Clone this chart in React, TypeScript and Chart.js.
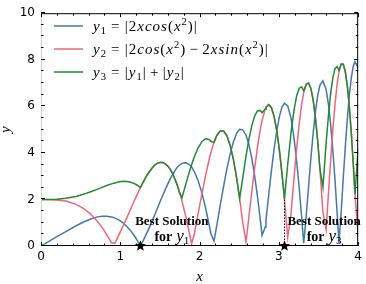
import React, { useEffect, useRef } from "react";
import { Chart, registerables } from "chart.js";

Chart.register(...registerables);

// sample positions (x) and the three curves
const xs = [
  0, 0.2, 0.3133, 0.4431, 0.5427, 0.6267, 0.7006, 0.7675, 0.829, 0.8889, 0.9293, 0.94, 0.9908, 1.0392, 1.0854, 1.1297, 1.1724, 1.2135, 1.2533,
  1.2919, 1.3293, 1.3658, 1.4013, 1.4359, 1.4697, 1.5027, 1.535, 1.5666, 1.5977, 1.6281, 1.658, 1.6873, 1.7162, 1.7445, 1.7778,
  1.827, 1.88, 1.899, 1.9315, 1.9817, 2.0306, 2.0784, 2.1251, 2.1414, 2.1818,
  2.2156, 2.2595, 2.3025, 2.3447, 2.3862, 2.427, 2.4672, 2.5051,
  2.5455, 2.5859, 2.6215, 2.6587, 2.6954, 2.7315, 2.7673, 2.7879, 2.8283,
  2.8373, 2.8717, 2.9057, 2.9393, 2.9725, 3.0054, 3.0378, 3.0707,
  3.1111, 3.1515, 3.1645, 3.1953, 3.2259, 3.2562, 3.2862, 3.3131,
  3.3454, 3.3747, 3.4036, 3.4324, 3.4608, 3.4891, 3.5171, 3.5556, 3.596,
  3.6271, 3.654, 3.6808, 3.7074, 3.7338, 3.7576,
  3.786, 3.8118, 3.8375, 3.863, 3.8883, 3.9135, 3.9385, 3.9596, 4,
];

const y1Values = [
  0, 0.4, 0.62, 0.87, 1.04, 1.16, 1.24, 1.28, 1.28, 1.25, 1.21, 1.19, 1.1, 0.98, 0.83, 0.66, 0.46, 0.24, 0,
  0.25, 0.52, 0.79, 1.07, 1.35, 1.63, 1.91, 2.17, 2.42, 2.66, 2.87, 3.06, 3.23, 3.37, 3.47, 3.55,
  3.58, 3.47, 3.4, 3.21, 2.8, 2.26, 1.59, 0.83, 0.54, 0.21,
  0.86, 1.73, 2.56, 3.32, 3.97, 4.48, 4.84, 5.01,
  4.99, 4.76, 4.36, 3.76, 2.99, 2.09, 1.08, 0.46, 0.82,
  1.11, 2.2, 3.23, 4.16, 4.94, 5.55, 5.96, 6.14,
  6.02, 5.51, 5.26, 4.52, 3.58, 2.49, 1.28, 0.12,
  1.31, 2.58, 3.78, 4.85, 5.76, 6.45, 6.9, 7.09, 6.72,
  6.03, 5.17, 4.09, 2.84, 1.46, 0.13,
  1.48, 2.92, 4.26, 5.46, 6.47, 7.23, 7.73, 7.92, 7.66,
];

const y2Values = [
  2, 1.98, 1.93, 1.79, 1.6, 1.37, 1.1, 0.81, 0.49, 0.14, 0.11, 0.18, 0.54, 0.89, 1.24, 1.58, 1.91, 2.22, 2.51,
  2.77, 3.0, 3.19, 3.35, 3.48, 3.56, 3.59, 3.59, 3.53, 3.44, 3.3, 3.12, 2.89, 2.63, 2.33, 1.93,
  1.25, 0.41, 0.09, 0.48, 1.39, 2.27, 3.08, 3.78, 4.0, 4.45,
  4.74, 4.94, 4.94, 4.73, 4.31, 3.71, 2.92, 2.04,
  0.97, 0.19, 1.25, 2.35, 3.37, 4.28, 5.04, 5.39, 5.89,
  5.96, 6.07, 5.94, 5.57, 4.97, 4.15, 3.15, 1.97,
  0.37, 1.31, 1.85, 3.1, 4.25, 5.25, 6.06, 6.59,
  6.95, 7.0, 6.77, 6.27, 5.51, 4.52, 3.33, 1.46, 0.7,
  2.37, 3.75, 5.01, 6.08, 6.93, 7.48,
  7.82, 7.81, 7.49, 6.88, 5.98, 4.84, 3.5, 2.23, 0.39,
];

const y3Values = [
  2, 2.01, 2.05, 2.13, 2.23, 2.33, 2.42, 2.52, 2.6, 2.67, 2.71, 2.72, 2.76, 2.78, 2.77, 2.74, 2.69, 2.61, 2.51,
  2.77, 3.0, 3.19, 3.35, 3.48, 3.56, 3.59, 3.59, 3.53, 3.44, 3.3, 3.12, 2.89, 2.63, 2.33, 2.07,
  2.67, 3.29, 3.49, 3.81, 4.22, 4.49, 4.61, 4.56, 4.5, 4.45,
  4.74, 4.94, 4.94, 4.73, 4.31, 3.71, 2.92, 2.04,
  2.95, 3.87, 4.58, 5.17, 5.59, 5.81, 5.82, 5.72, 5.89,
  5.96, 6.07, 5.94, 5.57, 4.97, 4.15, 3.15, 2.03,
  3.5, 4.81, 5.18, 5.93, 6.48, 6.78, 6.84, 6.66,
  6.95, 7.0, 6.77, 6.27, 5.51, 4.52, 3.33, 2.53, 4.43,
  5.69, 6.58, 7.23, 7.62, 7.71, 7.55,
  7.82, 7.81, 7.49, 6.88, 5.98, 4.84, 3.5, 2.23, 4.22,
];

const xMajor = [0, 1, 2, 3, 4];
const xMinor = [0.2, 0.4, 0.6, 0.8, 1.2, 1.4, 1.6, 1.8, 2.2, 2.4, 2.6, 2.8, 3.2, 3.4, 3.6, 3.8];
const yMajor = [0, 2, 4, 6, 8, 10];
const yMinor = [0.5, 1, 1.5, 2.5, 3, 3.5, 4.5, 5, 5.5, 6.5, 7, 7.5, 8.5, 9, 9.5];

// best solutions
const bestX = [1.2533, 3.0707];
const bestY = [0, 2.03];
const bestSub = ["1", "3"];
const labelX = [1.65, 3.57];

const COLORS = { y1: "#4477AA", y2: "#EE6677", y3: "#228833" };
const SERIF = '"Liberation Serif", "Times New Roman", serif';

type Run = { t?: string; i?: boolean; b?: boolean; sub?: boolean; sup?: boolean; sp?: number; s?: number };

function fontFor(r: Run, size: number) {
  const base = r.s || size;
  const sz = r.sub || r.sup ? base * 0.7 : base;
  return { font: `${r.i ? "italic " : ""}${r.b ? "bold " : ""}${sz}px ${SERIF}`, base };
}

function runsWidth(ctx: CanvasRenderingContext2D, runs: Run[], size: number, gap = 0) {
  let w = 0;
  for (const r of runs) {
    if (r.sp) { w += r.sp * size; continue; }
    ctx.font = fontFor(r, size).font;
    for (const ch of r.t || "") w += ctx.measureText(ch).width + gap;
  }
  return w;
}

function drawRuns(ctx: CanvasRenderingContext2D, x: number, y: number, runs: Run[], size: number, gap = 0) {
  let cx = x;
  ctx.textAlign = "left";
  ctx.textBaseline = "alphabetic";
  for (const r of runs) {
    if (r.sp) { cx += r.sp * size; continue; }
    const { font, base } = fontFor(r, size);
    ctx.font = font;
    const dy = r.sub ? base * 0.2 : r.sup ? -base * 0.4 : 0;
    for (const ch of r.t || "") {
      ctx.fillText(ch, cx, y + dy);
      cx += ctx.measureText(ch).width + gap;
    }
  }
}

const legendRows: { color: string; runs: Run[] }[] = [
  {
    color: COLORS.y1,
    runs: [
      { t: "y", i: true }, { t: "1", sub: true }, { sp: 0.28 }, { t: "=" }, { sp: 0.28 },
      { t: "|2" }, { t: "xcos", i: true }, { t: "(" }, { t: "x", i: true }, { t: "2", sup: true }, { t: ")|" },
    ],
  },
  {
    color: COLORS.y2,
    runs: [
      { t: "y", i: true }, { t: "2", sub: true }, { sp: 0.28 }, { t: "=" }, { sp: 0.28 },
      { t: "|2" }, { t: "cos", i: true }, { t: "(" }, { t: "x", i: true }, { t: "2", sup: true }, { t: ")" },
      { sp: 0.22 }, { t: "\u2212" }, { sp: 0.22 },
      { t: "2" }, { t: "xsin", i: true }, { t: "(" }, { t: "x", i: true }, { t: "2", sup: true }, { t: ")|" },
    ],
  },
  {
    color: COLORS.y3,
    runs: [
      { t: "y", i: true }, { t: "3", sub: true }, { sp: 0.28 }, { t: "=" }, { sp: 0.28 },
      { t: "|" }, { t: "y", i: true }, { t: "1", sub: true }, { t: "|" },
      { sp: 0.22 }, { t: "+" }, { sp: 0.22 },
      { t: "|" }, { t: "y", i: true }, { t: "2", sub: true }, { t: "|" },
    ],
  },
];

function star(ctx: CanvasRenderingContext2D, cx: number, cy: number, R: number) {
  const r = R * 0.42;
  ctx.beginPath();
  for (let k = 0; k < 10; k++) {
    const rad = k % 2 === 0 ? R : r;
    const a = -Math.PI / 2 + (k * Math.PI) / 5;
    const px = cx + rad * Math.cos(a);
    const py = cy + rad * Math.sin(a);
    if (k === 0) ctx.moveTo(px, py);
    else ctx.lineTo(px, py);
  }
  ctx.closePath();
  ctx.fill();
}

const decorPlugin = {
  id: "decor",
  afterDraw(chart: any) {
    const { ctx, chartArea: a, scales } = chart;
    const sx = scales.x;
    const sy = scales.y;
    ctx.save();
    // spines
    ctx.lineWidth = 1;
    ctx.strokeStyle = "#000";
    ctx.beginPath();
    ctx.moveTo(a.left, a.top + 0.5);
    ctx.lineTo(a.right, a.top + 0.5);
    ctx.moveTo(a.right - 0.5, a.top);
    ctx.lineTo(a.right - 0.5, a.bottom);
    ctx.moveTo(a.left, a.bottom - 0.5);
    ctx.lineTo(a.right, a.bottom - 0.5);
    ctx.stroke();
    ctx.strokeStyle = "#cfcfcf";
    ctx.beginPath();
    ctx.moveTo(a.left + 0.5, a.top);
    ctx.lineTo(a.left + 0.5, a.bottom);
    ctx.stroke();

    // ticks (inward, all four sides)
    ctx.strokeStyle = "#000";
    ctx.lineWidth = 1;
    ctx.beginPath();
    const xt = (v: number, len: number) => {
      const p = Math.round(sx.getPixelForValue(v)) + 0.5;
      ctx.moveTo(p, a.bottom);
      ctx.lineTo(p, a.bottom - len);
      ctx.moveTo(p, a.top);
      ctx.lineTo(p, a.top + len);
    };
    const yt = (v: number, len: number) => {
      const p = Math.round(sy.getPixelForValue(v)) - 0.5;
      ctx.moveTo(a.left, p);
      ctx.lineTo(a.left + len, p);
      ctx.moveTo(a.right, p);
      ctx.lineTo(a.right - len, p);
    };
    xMajor.forEach((v) => xt(v, 4));
    xMinor.forEach((v) => xt(v, 2.5));
    yMajor.forEach((v) => yt(v, 4));
    yMinor.forEach((v) => yt(v, 2.5));
    ctx.stroke();

    // axis titles
    ctx.fillStyle = "#000";
    ctx.font = `italic 15px ${SERIF}`;
    ctx.textAlign = "center";
    ctx.textBaseline = "middle";
    ctx.fillText("x", (a.left + a.right) / 2, 277);
    ctx.save();
    ctx.translate(6, (a.top + a.bottom) / 2);
    ctx.rotate(-Math.PI / 2);
    ctx.fillText("y", 0, 0);
    ctx.restore();

    // best-solution markers and notes
    bestX.forEach((bx, i) => {
      const px = sx.getPixelForValue(bx);
      const p0 = sy.getPixelForValue(0);
      const p1 = sy.getPixelForValue(bestY[i]);
      if (bestY[i] > 0) {
        ctx.save();
        ctx.setLineDash([1.5, 1.5]);
        ctx.lineWidth = 1;
        ctx.strokeStyle = "#000";
        ctx.beginPath();
        ctx.moveTo(Math.round(px) + 0.5, p0);
        ctx.lineTo(Math.round(px) + 0.5, p1);
        ctx.stroke();
        ctx.restore();
      }
      ctx.fillStyle = "#000";
      star(ctx, px, p0, 5.8);

      const cx = sx.getPixelForValue(labelX[i]);
      const size = 13;
      const l1: Run[] = [{ t: "Best Solution", b: true }];
      const l2: Run[] = [{ t: "for", b: true, s: 14 }, { sp: 0.3 }, { t: "y", i: true, s: 17 }, { t: bestSub[i], sub: true, s: 16 }];
      const w1 = runsWidth(ctx, l1, size);
      const w2 = runsWidth(ctx, l2, size);
      drawRuns(ctx, cx - w1 / 2, sy.getPixelForValue(0.92), l1, size);
      drawRuns(ctx, cx - w2 / 2, sy.getPixelForValue(0.22), l2, size);
    });

    // legend
    legendRows.forEach((row, i) => {
      const cy = 26 + i * 23;
      ctx.strokeStyle = row.color;
      ctx.lineWidth = 1.5;
      ctx.beginPath();
      ctx.moveTo(54, cy);
      ctx.lineTo(83, cy);
      ctx.stroke();
      ctx.fillStyle = "#000";
      drawRuns(ctx, 93, cy + 4.5, row.runs, 15, 1);
    });
    ctx.restore();
  },
};

export default function App() {
  const ref = useRef<HTMLCanvasElement | null>(null);
  useEffect(() => {
    document.body.style.margin = "0";
    if (!ref.current) return;
    const mk = (vals: number[]) => xs.map((x, i) => ({ x, y: vals[i] }));
    const chart = new Chart(ref.current, {
      type: "line",
      data: {
        datasets: [
          { label: "y3", data: mk(y3Values), borderColor: COLORS.y3, backgroundColor: COLORS.y3 },
          { label: "y2", data: mk(y2Values), borderColor: COLORS.y2, backgroundColor: COLORS.y2 },
          { label: "y1", data: mk(y1Values), borderColor: COLORS.y1, backgroundColor: COLORS.y1 },
        ],
      },
      options: {
        animation: false,
        responsive: false,
        events: [],
        layout: { padding: { top: 6, right: 4, left: 0, bottom: 0 } },
        elements: { point: { radius: 0 }, line: { borderWidth: 1.5, tension: 0 } },
        plugins: { legend: { display: false }, tooltip: { enabled: false } },
        scales: {
          x: {
            type: "linear",
            min: 0,
            max: 4,
            ticks: { stepSize: 1, color: "#000", font: { family: '"DejaVu Sans"', size: 12 }, padding: 4, maxRotation: 0, autoSkip: false },
            grid: { display: false, drawTicks: false },
            border: { display: false },
            afterFit: (s: any) => { s.height = 38; },
          },
          y: {
            type: "linear",
            min: 0,
            max: 10,
            ticks: { stepSize: 2, color: "#000", font: { family: '"DejaVu Sans"', size: 12 }, padding: 6 },
            grid: { display: false, drawTicks: false },
            border: { display: false },
            afterFit: (s: any) => { s.width = 41; },
          },
        },
      } as any,
      plugins: [decorPlugin],
    });
    return () => chart.destroy();
  }, []);
  return (
    <div style={{ width: 366, height: 284 }}>
      <canvas ref={ref} width={366} height={284} style={{ display: "block", width: 366, height: 284 }} />
    </div>
  );
}
